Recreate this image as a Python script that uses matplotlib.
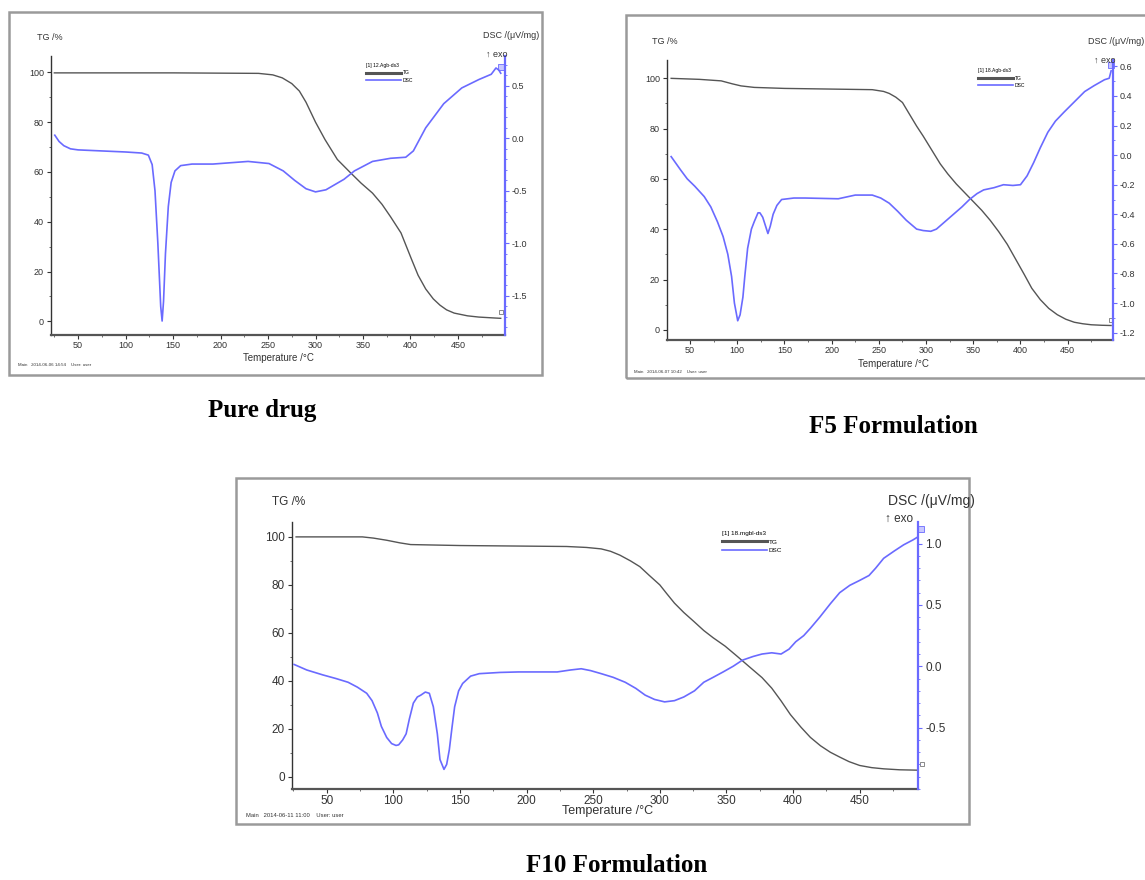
import matplotlib
matplotlib.use("Agg")
import matplotlib.pyplot as plt
from matplotlib.patches import Rectangle
from matplotlib.lines import Line2D
from matplotlib.ticker import MultipleLocator
import matplotlib.transforms as mtransforms

# ---------------- data ----------------
# Pure drug
pure_dsc_T = [25.5, 30, 35, 42, 50, 75, 100, 117, 124, 128, 131, 134, 137, 138.5, 140, 142, 145, 148, 152, 158,
              170, 192, 229, 251, 266, 278, 290, 300, 311, 330, 341, 360, 379, 395, 403, 416, 435, 454, 472, 485,
              490, 493, 495]
pure_dsc = [0.03, -0.03, -0.07, -0.10, -0.11, -0.12, -0.13, -0.14, -0.16, -0.25, -0.5, -1.0, -1.60, -1.74, -1.55,
            -1.1, -0.65, -0.42, -0.31, -0.26, -0.245, -0.245, -0.22, -0.24, -0.31, -0.40, -0.48, -0.51, -0.49,
            -0.39, -0.31, -0.22, -0.19, -0.18, -0.12, 0.10, 0.33, 0.48, 0.56, 0.61, 0.67, 0.65, 0.62]
pure_tg_T = [25, 150, 240, 255, 265, 275, 283, 290, 300, 310, 323, 336, 348, 360, 370, 379, 390, 401, 408, 416,
             424, 431, 438, 446, 460, 472, 490, 495]
pure_tg = [99.8, 99.8, 99.6, 99.0, 97.8, 95.5, 92.5, 88, 80, 73, 65, 60, 55.5, 51.5, 47, 42, 35.5, 25, 18.5, 13,
           9, 6.5, 4.6, 3.3, 2.2, 1.7, 1.3, 1.2]

# F5 formulation
f5_dsc_T = [30, 40, 47, 55, 65, 72, 79, 85, 90, 94, 97, 100.5, 103, 106, 108, 111, 115, 118, 122, 124, 127, 129.5,
            132.5, 135, 138, 142, 147, 160, 172, 207, 225, 243, 252, 261, 270, 279, 290, 297, 305, 311, 320, 329,
            338, 346, 354, 361, 372, 382, 392, 400, 407, 414, 421, 429, 437, 446, 457, 468, 478, 489, 494, 496]
f5_dsc = [-0.01, -0.10, -0.16, -0.21, -0.28, -0.35, -0.45, -0.55, -0.67, -0.82, -1.0, -1.12, -1.08, -0.96, -0.82,
          -0.63, -0.50, -0.45, -0.39, -0.39, -0.42, -0.47, -0.53, -0.48, -0.40, -0.34, -0.30, -0.29, -0.29, -0.295,
          -0.27, -0.27, -0.29, -0.325, -0.38, -0.44, -0.50, -0.51, -0.515, -0.50, -0.45, -0.40, -0.35, -0.30, -0.26,
          -0.235, -0.22, -0.20, -0.205, -0.20, -0.14, -0.05, 0.05, 0.155, 0.23, 0.29, 0.36, 0.43, 0.47, 0.51, 0.52,
          0.57]
f5_tg_T = [30, 60, 83, 95, 104, 118, 150, 243, 255, 261, 268, 275, 282, 290, 297, 306, 315, 323, 332, 341, 350,
           359, 368, 377, 386, 395, 404, 412, 421, 430, 439, 448, 457, 466, 475, 486, 496]
f5_tg = [100, 99.6, 99, 97.8, 97, 96.4, 96, 95.5, 94.8, 94, 92.5, 90.4, 86, 81, 77, 71.5, 66, 62, 58, 54.5, 51,
         47.5, 43.5, 39, 34, 28, 22, 16.5, 12, 8.5, 6, 4.2, 3, 2.4, 2, 1.8, 1.7]

# F10 formulation
f10_dsc_T = [25.5, 35, 47, 57, 66, 73, 80, 84, 88, 91, 95, 98.7, 102, 104, 107, 109.6, 112, 115, 118, 120.6, 124,
             127, 130, 133, 135, 138, 140, 142, 144, 146, 149, 152, 158, 164.5, 180, 194, 223, 233, 241, 248, 256,
             265, 274, 282, 289, 296, 303.6, 311, 318, 326, 333, 340, 347.5, 355, 362, 370, 376.7, 384, 391, 397,
             402, 408, 413, 420, 428, 435, 442.6, 450, 457, 462, 468, 476, 483, 490, 496]
f10_dsc = [0.015, -0.03, -0.07, -0.10, -0.13, -0.17, -0.22, -0.28, -0.38, -0.49, -0.58, -0.63, -0.645, -0.64,
           -0.60, -0.55, -0.43, -0.30, -0.25, -0.235, -0.21, -0.22, -0.33, -0.55, -0.76, -0.84, -0.80, -0.68, -0.50,
           -0.33, -0.20, -0.14, -0.08, -0.06, -0.05, -0.046, -0.046, -0.03, -0.02, -0.035, -0.06, -0.09, -0.13,
           -0.18, -0.235, -0.27, -0.29, -0.28, -0.25, -0.20, -0.13, -0.09, -0.046, 0.00, 0.05, 0.08, 0.10, 0.11,
           0.10, 0.14, 0.20, 0.25, 0.31, 0.40, 0.51, 0.60, 0.66, 0.70, 0.74, 0.80, 0.88, 0.94, 0.99, 1.03, 1.07]
f10_tg_T = [27, 76.7, 85, 95, 105, 113, 150, 230, 245, 256, 263, 270, 278, 285, 292, 300, 305, 311, 318, 325.5, 333,
            340, 349, 358, 367, 376.7, 384, 391, 398, 406, 413, 420.6, 428, 435, 442, 450, 459, 468, 480, 497]
f10_tg = [100, 100, 99.5, 98.6, 97.5, 96.8, 96.4, 96, 95.6, 95, 94, 92.4, 90, 87.6, 84, 80, 76.5, 72.4, 68.5, 64.8,
          61, 58, 54.5, 50.3, 46, 41.4, 37, 31.7, 26, 20.7, 16.5, 13, 10.3, 8.3, 6.4, 4.8, 3.9, 3.4, 3.0, 2.8]

captions = ["Pure drug", "F5 Formulation", "F10 Formulation"]
legend_titles = ["[1] 12.Agb-ds3", "[1] 18.Agb-ds3", "[1] 18.mgbl-ds3"]
tg_ticks = [0, 20, 40, 60, 80, 100]
x_ticks = [50, 100, 150, 200, 250, 300, 350, 400, 450]
dsc_ticks = [[-1.5, -1.0, -0.5, 0.0, 0.5],
             [-1.2, -1.0, -0.8, -0.6, -0.4, -0.2, 0.0, 0.2, 0.4, 0.6],
             [-0.5, 0.0, 0.5, 1.0]]
footer = ["Main   2014-06-06 14:54    User: user", "Main   2014-06-07 10:42    User: user",
          "Main   2014-06-11 11:00    User: user"]

# ---------------- layout ----------------
W, H = 1145, 880
fig = plt.figure(figsize=(W / 100, H / 100), dpi=100)
plt.rcParams['font.family'] = ['Liberation Sans', 'DejaVu Sans']

def rect(l, t, r, b):
    return [l / W, 1 - b / H, (r - l) / W, (b - t) / H]

TGC = '#555555'
DSCC = '#6a6aff'

panels = [
    dict(frame=(9, 12, 542, 375), ax=(51, 55.7, 505, 335), xlim=(21.5, 499.5), ylim=(-5.5, 106.7),
         y2lim=(-1.873, 0.787), dT=pure_dsc_T, d=pure_dsc, tT=pure_tg_T, t=pure_tg, fs=6.5, dfs=6.5,
         tg_lab=(37, 37), dsc_lab=(539, 36), exo=(507, 54), xlab=(278, 358), leg=(366, 63), legfs=3.6,
         cap=(262, 410), foot=(18, 365), y2minor=0.1),
    dict(frame=(626, 15, 1155, 378), ax=(667, 60.5, 1113, 340), xlim=(25.6, 498), ylim=(-4.06, 107.1),
         y2lim=(-1.25, 0.64), dT=f5_dsc_T, d=f5_dsc, tT=f5_tg_T, t=f5_tg, fs=6.5, dfs=6.5,
         tg_lab=(652, 42), dsc_lab=(1144, 42), exo=(1115, 60), xlab=(893, 364), leg=(978, 68), legfs=3.6,
         cap=(893, 426), foot=(634, 372), y2minor=0.1),
    dict(frame=(236, 478, 969, 824), ax=(291.7, 522, 918.3, 789), xlim=(23.7, 494), ylim=(-5.0, 106.2),
         y2lim=(-1.0, 1.176), dT=f10_dsc_T, d=f10_dsc, tT=f10_tg_T, t=f10_tg, fs=8.5, dfs=10,
         tg_lab=(272, 502), dsc_lab=(975, 501), exo=(913, 519), xlab=(608, 811), leg=(722, 531), legfs=4.6,
         cap=(617, 865), foot=(246, 815), y2minor=0.1),
]

for i, p in enumerate(panels):
    l, t, r, b = p['frame']
    fig.patches.append(Rectangle((l / W, 1 - b / H), (r - l) / W, (b - t) / H, transform=fig.transFigure,
                                 fill=False, ec='#9a9a9a', lw=1.8, zorder=0))
    ax = fig.add_axes(rect(*p['ax']))
    ax2 = ax.twinx()
    fs = p['fs']
    ax.plot(p['tT'], p['t'], color=TGC, lw=1.0, zorder=3)
    ax2.plot(p['dT'], p['d'], color=DSCC, lw=1.2, zorder=3)
    off = mtransforms.ScaledTranslation(0, 6 / 100, fig.dpi_scale_trans)
    ax2.plot(p['dT'][-1], p['d'][-1], marker='s', ms=4, mfc='#c8c8ff', mec=DSCC, mew=0.6,
             transform=ax2.transData + off, clip_on=False)
    ax.plot(p['tT'][-1], p['t'][-1], marker='s', ms=3.5, mfc='white', mec='#777777', mew=0.6,
            transform=ax.transData + off, clip_on=False)

    ax.set_xlim(*p['xlim'])
    ax.set_ylim(*p['ylim'])
    ax2.set_ylim(*p['y2lim'])
    ax.set_xticks(x_ticks)
    ax.set_yticks(tg_ticks)
    ax2.set_yticks(dsc_ticks[i])
    ax.xaxis.set_minor_locator(MultipleLocator(25))
    ax.yaxis.set_minor_locator(MultipleLocator(10))
    ax2.yaxis.set_minor_locator(MultipleLocator(p['y2minor']))
    ax2.set_yticklabels([f"{v:.1f}" for v in dsc_ticks[i]])

    for a in (ax, ax2):
        a.spines['top'].set_visible(False)
        a.patch.set_alpha(0)
    ax.spines['right'].set_visible(False)
    ax2.spines['left'].set_visible(False)
    ax2.spines['bottom'].set_visible(False)
    ax.spines['left'].set_color('#333333')
    ax.spines['left'].set_linewidth(1.0)
    ax.spines['bottom'].set_color('#555555')
    ax.spines['bottom'].set_linewidth(1.6)
    ax2.spines['right'].set_color(DSCC)
    ax2.spines['right'].set_linewidth(1.6)

    ax.tick_params(axis='both', which='major', direction='out', length=3, width=0.8, labelsize=fs,
                   colors='#333333', labelcolor='#333333', pad=2)
    ax.tick_params(axis='x', which='major', pad=1.5)
    ax.tick_params(axis='both', which='minor', direction='out', length=1.5, width=0.6, colors='#555555')
    ax2.tick_params(axis='y', which='major', direction='out', length=3, width=0.8, labelsize=fs,
                    colors=DSCC, labelcolor='#333333', pad=2)
    ax2.tick_params(axis='y', which='minor', direction='out', length=1.5, width=0.6, colors=DSCC)

    # axis titles
    fig.text(p['tg_lab'][0] / W, 1 - p['tg_lab'][1] / H, "TG /%", fontsize=fs, color='#333333',
             ha='left', va='center')
    fig.text(p['dsc_lab'][0] / W, 1 - p['dsc_lab'][1] / H, "DSC /(\u03bcV/mg)", fontsize=p['dfs'],
             color='#333333', ha='right', va='center')
    fig.text(p['exo'][0] / W, 1 - p['exo'][1] / H, "\u2191 exo", fontsize=fs, color='#333333',
             ha='right', va='center')
    fig.text(p['xlab'][0] / W, 1 - p['xlab'][1] / H, "Temperature /\u00b0C", fontsize=fs + 0.5,
             color='#333333', ha='center', va='center')
    fig.text(p['foot'][0] / W, 1 - p['foot'][1] / H, footer[i], fontsize=p['legfs'] - 0.4, color='#333333',
             ha='left', va='center')

    # legend
    handles = [Line2D([], [], color=TGC, lw=2.2), Line2D([], [], color=DSCC, lw=1.2)]
    leg = fig.legend(handles, ["TG", "DSC"], title=legend_titles[i], loc='upper left',
                     bbox_to_anchor=(p['leg'][0] / W, 1 - p['leg'][1] / H), frameon=False,
                     fontsize=p['legfs'], title_fontsize=p['legfs'], handlelength=7, handletextpad=0.3,
                     labelspacing=0.5, borderpad=0, borderaxespad=0)
    leg._legend_box.align = 'left'

    # caption
    fig.text(p['cap'][0] / W, 1 - p['cap'][1] / H, captions[i], fontsize=18, fontweight='bold',
             family='Liberation Serif', ha='center', va='center', color='black')

fig.savefig("out.png", dpi=100, facecolor='white')
